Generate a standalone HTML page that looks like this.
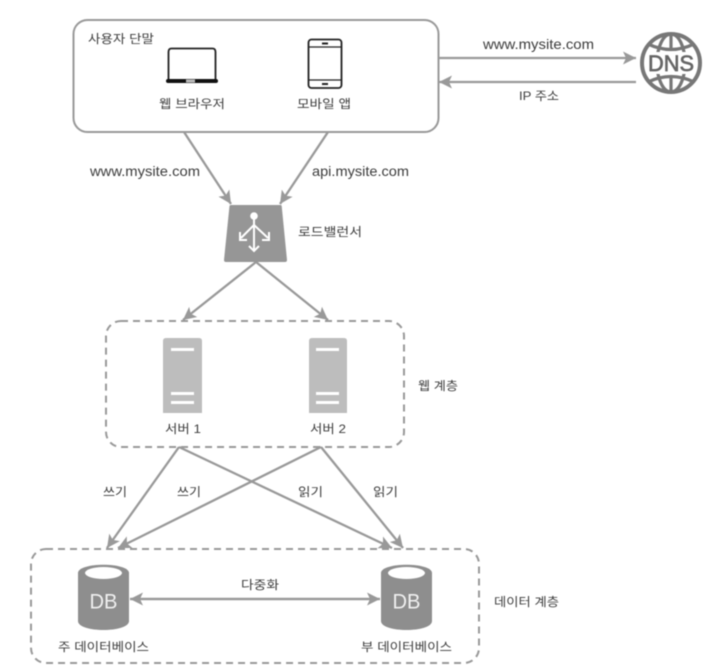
<!DOCTYPE html>
<html><head><meta charset="utf-8">
<style>
html,body{margin:0;padding:0;background:#fff;width:725px;height:670px;overflow:hidden}
svg{display:block;filter:blur(0.5px)}
text{font-family:"Liberation Sans","Noto Sans CJK KR",sans-serif;font-size:12px;fill:#3c3c3c;dominant-baseline:central}
.l{font-size:14px}
</style></head><body>
<svg width="725" height="670" viewBox="0 0 725 670" xmlns="http://www.w3.org/2000/svg">
<defs>
<marker id="a" markerUnits="userSpaceOnUse" markerWidth="16" markerHeight="16" refX="13" refY="7" orient="auto">
<path d="M0 0.5L13 7L0 13.500L3 7Z" fill="#999"/>
</marker>
</defs>

<!-- containers -->
<rect x="73.500" y="20" width="365" height="112" rx="14" fill="#fff" stroke="#999" stroke-width="2"/>
<rect x="106" y="321" width="298" height="126" rx="15" fill="none" stroke="#999" stroke-width="2" stroke-dasharray="7 5"/>
<rect x="31" y="549" width="448" height="114" rx="15" fill="none" stroke="#999" stroke-width="2" stroke-dasharray="7 5"/>

<!-- connectors -->
<g stroke="#999" stroke-width="2.300" fill="none">
<line x1="439" y1="58" x2="636" y2="58" marker-end="url(#a)"/>
<line x1="636" y1="82" x2="439" y2="82" marker-end="url(#a)"/>
<line x1="184" y1="132" x2="231" y2="204" marker-end="url(#a)"/>
<line x1="328" y1="132" x2="280" y2="204" marker-end="url(#a)"/>
<line x1="256" y1="262" x2="183" y2="320" marker-end="url(#a)"/>
<line x1="256" y1="262" x2="328" y2="320" marker-end="url(#a)"/>
<line x1="179" y1="447" x2="107" y2="548" marker-end="url(#a)"/>
<line x1="179" y1="447" x2="392" y2="548" marker-end="url(#a)"/>
<line x1="321" y1="447" x2="118" y2="548" marker-end="url(#a)"/>
<line x1="321" y1="447" x2="403" y2="548" marker-end="url(#a)"/>
<line x1="130" y1="599" x2="380" y2="599" marker-end="url(#a)"/>
<line x1="380" y1="599" x2="130" y2="599" marker-end="url(#a)"/>
</g>

<!-- laptop -->
<path d="M168.500 79V52q0-3.500 3-3.500h41q3 0 3 3.500V79" fill="#fff" stroke="#222" stroke-width="1.800"/>
<rect x="166" y="79" width="52" height="4" rx="2" fill="#111"/>
<rect x="186" y="79.500" width="9" height="3" fill="#bbb"/>

<!-- phone -->
<rect x="308.500" y="39.500" width="33" height="48.500" rx="3" fill="#fff" stroke="#222" stroke-width="1.800"/>
<line x1="309" y1="47" x2="341" y2="47" stroke="#222" stroke-width="1.200"/>
<line x1="309" y1="80" x2="341" y2="80" stroke="#222" stroke-width="1.200"/>
<rect x="322" y="42.500" width="6" height="2" fill="#222"/>
<rect x="322" y="83" width="6" height="2" fill="#222"/>

<!-- DNS globe -->
<circle cx="671" cy="63" r="29" fill="#fff" stroke="#777" stroke-width="4"/>
<g fill="none" stroke="#777" stroke-width="3.200">
<ellipse cx="671" cy="63" rx="14" ry="29"/>
<line x1="671" y1="34" x2="671" y2="50"/>
<line x1="671" y1="76" x2="671" y2="92"/>
<path d="M648 44q23 11 46 0"/>
<path d="M648 82q23-11 46 0"/>
</g>
<rect x="647" y="52" width="48" height="22" fill="#fff"/>
<text x="671" y="63.500" text-anchor="middle" textLength="46" lengthAdjust="spacingAndGlyphs" style="font-size:22px;fill:#666;stroke:#666;stroke-width:.7">DNS</text>

<!-- load balancer -->
<path d="M231 205H280.500Q281.500 205 281.700 206L287 260Q287 262 285 262H226Q224 262 224 260L229.500 206Q229.700 205 231 205Z" fill="#969696"/>
<circle cx="254" cy="216" r="3.800" fill="#fff"/>
<g stroke="#fff" stroke-width="2" fill="none">
<line x1="254" y1="217" x2="254" y2="250"/>
<line x1="254" y1="225" x2="241" y2="238"/>
<line x1="254" y1="225" x2="268" y2="238"/>
<path d="M249 246L254 251L259 246"/>
<path d="M240 232V240H247"/>
<path d="M269 232V240H262"/>
</g>

<!-- servers -->
<g fill="#bdbdbd">
<path d="M163 413V341q0-3 3-3h33q3 0 3 3v72z"/>
<path d="M309 413V341q0-3 3-3h32q3 0 3 3v72z"/>
</g>
<g fill="#fff">
<rect x="171" y="348" width="23" height="3"/><rect x="171" y="392" width="23" height="3"/><rect x="171" y="401" width="23" height="3"/>
<rect x="316" y="348" width="23" height="3"/><rect x="316" y="392" width="23" height="3"/><rect x="316" y="401" width="23" height="3"/>
</g>

<!-- DBs -->
<g fill="#8e8e8e">
<path d="M78 573c0-11 51-11 51 0v48c0 12-51 12-51 0z"/>
<path d="M381 573c0-11 51-11 51 0v48c0 12-51 12-51 0z"/>
</g>
<ellipse cx="103.500" cy="573" rx="18.500" ry="6" fill="#fff"/>
<ellipse cx="406.500" cy="573" rx="18.500" ry="6" fill="#fff"/>
<text x="103.500" y="602" text-anchor="middle" textLength="28" lengthAdjust="spacingAndGlyphs" style="font-size:21px;fill:#f0f0f0">DB</text>
<text x="406.500" y="602" text-anchor="middle" textLength="28" lengthAdjust="spacingAndGlyphs" style="font-size:21px;fill:#f0f0f0">DB</text>

<!-- labels -->
<text x="88" y="39" textLength="66" lengthAdjust="spacingAndGlyphs">사용자 단말</text>
<text x="159" y="104" textLength="66" lengthAdjust="spacingAndGlyphs">웹 브라우저</text>
<text x="297" y="104" textLength="54" lengthAdjust="spacingAndGlyphs">모바일 앱</text>
<text class="l" x="483" y="44" textLength="111" lengthAdjust="spacingAndGlyphs">www.mysite.com</text>
<text x="519" y="96" textLength="40" lengthAdjust="spacingAndGlyphs">IP 주소</text>
<text class="l" x="90" y="171" textLength="110" lengthAdjust="spacingAndGlyphs">www.mysite.com</text>
<text class="l" x="312" y="171" textLength="97" lengthAdjust="spacingAndGlyphs">api.mysite.com</text>
<text x="298" y="232" textLength="64" lengthAdjust="spacingAndGlyphs">로드밸런서</text>
<text x="418" y="386" textLength="40" lengthAdjust="spacingAndGlyphs">웹 계층</text>
<text x="165" y="429" textLength="36" lengthAdjust="spacingAndGlyphs">서버 1</text>
<text x="310" y="429" textLength="36" lengthAdjust="spacingAndGlyphs">서버 2</text>
<text x="103" y="492" textLength="24" lengthAdjust="spacingAndGlyphs">쓰기</text>
<text x="177" y="492" textLength="24" lengthAdjust="spacingAndGlyphs">쓰기</text>
<text x="298" y="492" textLength="25" lengthAdjust="spacingAndGlyphs">읽기</text>
<text x="373" y="492" textLength="25" lengthAdjust="spacingAndGlyphs">읽기</text>
<text x="241" y="585" textLength="38" lengthAdjust="spacingAndGlyphs">다중화</text>
<text x="58" y="647" textLength="91" lengthAdjust="spacingAndGlyphs">주 데이터베이스</text>
<text x="361" y="647" textLength="91" lengthAdjust="spacingAndGlyphs">부 데이터베이스</text>
<text x="494" y="602" textLength="65" lengthAdjust="spacingAndGlyphs">데이터 계층</text>
</svg>
</body></html>
